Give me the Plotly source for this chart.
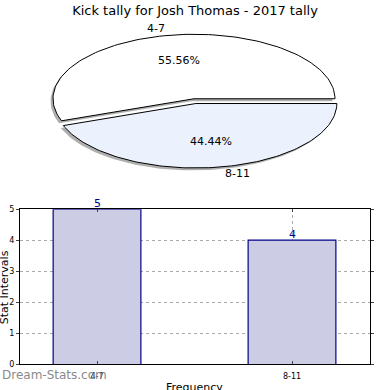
import numpy as np
import plotly.graph_objects as go

title = "Kick tally for Josh Thomas - 2017 tally"
categories = ["4-7", "8-11"]
counts = [5, 4]
pie_colors = ["#ffffff", "#ebf1fd"]
explode = [0.0, 0.075]

W = H = 390
fig = go.Figure()

# ---- elliptical pie (axes x2/y2, unit radius) ----
cx_px, cy_px, rx_px, ry_px = 194, 97, 141, 66
pie_top, pie_bot = 20, 190
x2_range = [-cx_px / rx_px, (W - cx_px) / rx_px]
y2_range = [-(pie_bot - cy_px) / ry_px, (cy_px - pie_top) / ry_px]

total = sum(counts)
fracs = [c / total for c in counts]
start = 0.0
wedges = []
for cat, f, col, ex in zip(categories, fracs, pie_colors, explode):
    a0, a1 = start, start + f * 360
    mid = np.deg2rad((a0 + a1) / 2)
    ox, oy = ex * np.cos(mid), ex * np.sin(mid)
    th = np.deg2rad(np.linspace(a0, a1, 120))
    xs = np.concatenate([[0], np.cos(th), [0]]) + ox
    ys = np.concatenate([[0], np.sin(th), [0]]) + oy
    wedges.append((cat, f, col, ex, mid, ox, oy, xs, ys))
    start = a1

# shadows
for cat, f, col, ex, mid, ox, oy, xs, ys in wedges:
    fig.add_trace(go.Scatter(x=xs - 2.5 / rx_px, y=ys - 2.5 / ry_px, mode="lines",
                             fill="toself", fillcolor="rgba(110,110,110,0.55)",
                             line=dict(color="rgba(0,0,0,0)", width=0),
                             xaxis="x2", yaxis="y2", hoverinfo="skip", showlegend=False))
for cat, f, col, ex, mid, ox, oy, xs, ys in wedges:
    fig.add_trace(go.Scatter(x=xs, y=ys, mode="lines", fill="toself", fillcolor=col,
                             line=dict(color="black", width=1),
                             xaxis="x2", yaxis="y2", name=cat, showlegend=False))
    lx, ly = (1.1 + ex) * np.cos(mid), (1.1 + ex) * np.sin(mid)
    fig.add_annotation(x=lx, y=ly, xref="x2", yref="y2", text=cat, showarrow=False,
                       xanchor="left" if lx > 0 else "right", yanchor="middle",
                       font=dict(size=11, color="black"))
    px, py = (0.6 + ex) * np.cos(mid), (0.6 + ex) * np.sin(mid)
    fig.add_annotation(x=px, y=py, xref="x2", yref="y2", text=f"{f*100:.2f}%",
                       showarrow=False, xanchor="center", yanchor="middle",
                       font=dict(size=11, color="black"))

# ---- bar chart ----
fig.add_trace(go.Bar(x=categories, y=counts, width=0.45,
                     marker=dict(color="#ccccE5", line=dict(color="#00008b", width=1.2)),
                     showlegend=False))
for c, v in zip(categories, counts):
    fig.add_annotation(x=c, y=v, xref="x", yref="y", text=str(v), showarrow=False,
                       yanchor="bottom", yshift=-3, font=dict(size=11, color="#00008b"))

left, right, top, bot = 20, 370, 210, 369
fig.update_layout(
    width=W, height=H, margin=dict(l=0, r=0, t=0, b=0),
    paper_bgcolor="white", plot_bgcolor="white",
    font=dict(family="DejaVu Sans", color="black"),
    title=dict(text=title, x=0.5, xanchor="center", y=1 - 10 / H, yanchor="middle",
               font=dict(size=13)),
    xaxis=dict(domain=[left / W, right / W], range=[-0.395, 1.4], type="category",
               showline=True, linecolor="black", mirror="ticks", ticks="inside", ticklen=3,
               showgrid=True, gridcolor="#aaaaaa", griddash="dot", gridwidth=1,
               tickfont=dict(size=8), zeroline=False, ticklabelstandoff=4),
    yaxis=dict(domain=[1 - bot / H, 1 - top / H], range=[0, 5], dtick=1,
               showline=True, linecolor="black", mirror="ticks", ticks="outside", ticklen=3,
               showgrid=True, gridcolor="#aaaaaa", griddash="dot", gridwidth=1,
               tickfont=dict(size=8), zeroline=False),
    xaxis2=dict(domain=[0, 1], range=x2_range, visible=False, fixedrange=True),
    yaxis2=dict(domain=[1 - pie_bot / H, 1 - pie_top / H], range=y2_range,
                visible=False, fixedrange=True),
)
fig.add_annotation(x=194.5 / W, y=1 - 384 / H, xref="paper", yref="paper", text="Frequency",
                   showarrow=False, xanchor="center", yanchor="top", font=dict(size=11))
fig.add_annotation(x=4 / W, y=1 - 290 / H, xref="paper", yref="paper", text="Stat Intervals",
                   showarrow=False, textangle=-90, xanchor="center", yanchor="middle",
                   font=dict(size=11))
fig.add_annotation(x=0, y=1 - 380 / H, xref="paper", yref="paper", text="Dream-Stats.com",
                   showarrow=False, xanchor="left", yanchor="middle",
                   font=dict(size=12, color="#8a8a8a"))
fig.write_html("out.html", config={"displayModeBar": False},
               post_script="document.body.style.margin='0';document.body.style.overflow='hidden';")
